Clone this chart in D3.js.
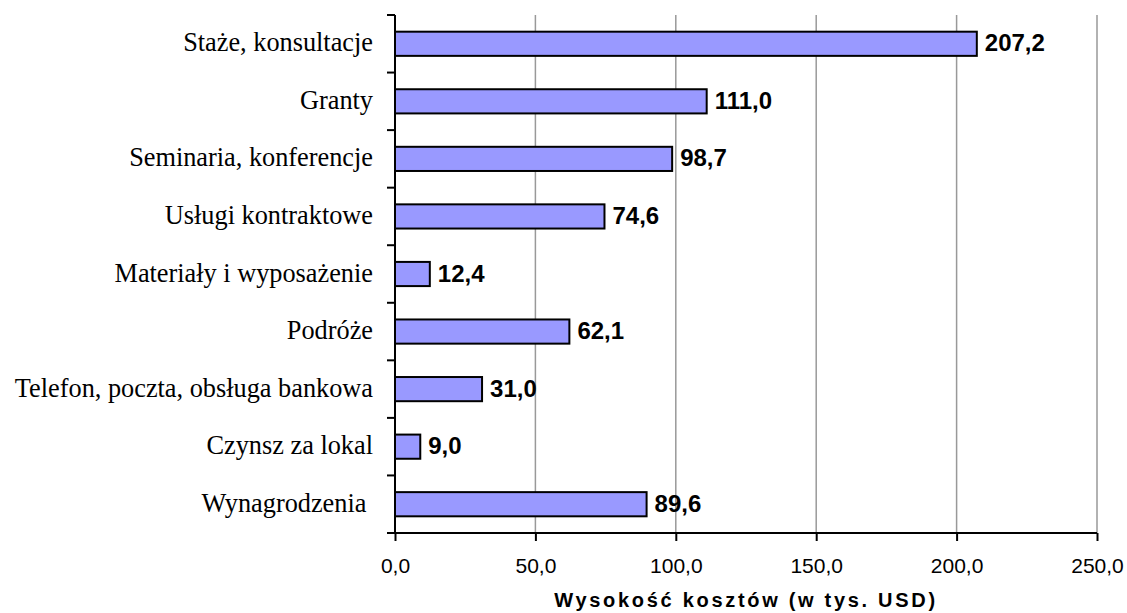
<!DOCTYPE html>
<html lang="pl">
<head>
<meta charset="UTF-8">
<title>Wysokość kosztów</title>
<script src="https://cdn.jsdelivr.net/npm/d3@7/dist/d3.min.js"></script>
<style>
  body { margin: 0; background: #fff; }
  svg { display: block; }
</style>
</head>
<body>
<div id="chart"></div>
<script>
// categories top to bottom
const categories = [
  "Staże, konsultacje",
  "Granty",
  "Seminaria, konferencje",
  "Usługi kontraktowe",
  "Materiały i wyposażenie",
  "Podróże",
  "Telefon, poczta, obsługa bankowa",
  "Czynsz za lokal",
  "Wynagrodzenia "
];
const values = [207.2, 111.0, 98.7, 74.6, 12.4, 62.1, 31.0, 9.0, 89.6];
const xTicks = [0, 50, 100, 150, 200, 250];
const axisTitle = "Wysokość kosztów (w tys. USD)";

const width = 1127, height = 613;
const margin = { top: 15, right: 30, bottom: 80, left: 395 };
const fmt = v => v.toFixed(1).replace(".", ",");

const svg = d3.select("#chart").append("svg")
  .attr("width", width).attr("height", height);

const x = d3.scaleLinear().domain([0, 250]).range([margin.left, width - margin.right]);
const y = d3.scaleBand().domain(categories).range([margin.top, height - margin.bottom]).paddingInner(0.58).paddingOuter(0.29);
const step = y.step();

// gridlines
svg.append("g").selectAll("line")
  .data(xTicks.filter(d => d > 0))
  .enter().append("line")
  .attr("x1", d => x(d)).attr("x2", d => x(d))
  .attr("y1", margin.top).attr("y2", height - margin.bottom)
  .attr("stroke", "#999").attr("stroke-width", 1.5);

// bars
svg.append("g").selectAll("rect")
  .data(values)
  .enter().append("rect")
  .attr("x", x(0))
  .attr("y", (d, i) => y(categories[i]))
  .attr("width", d => x(d) - x(0))
  .attr("height", y.bandwidth())
  .attr("fill", "#9999ff")
  .attr("stroke", "#000").attr("stroke-width", 2);

// value labels
svg.append("g").selectAll("text")
  .data(values)
  .enter().append("text")
  .attr("x", d => x(d) + 8)
  .attr("y", (d, i) => y(categories[i]) + y.bandwidth() / 2 + 7.5)
  .style("font-family", "Arial, 'Liberation Sans', sans-serif")
  .style("font-weight", "bold")
  .style("font-size", "24px")
  .text(fmt);

// y axis
const yAxisG = svg.append("g");
yAxisG.append("line")
  .attr("x1", x(0)).attr("x2", x(0))
  .attr("y1", margin.top).attr("y2", height - margin.bottom)
  .attr("stroke", "#000").attr("stroke-width", 2);
yAxisG.selectAll("line.tk")
  .data(d3.range(categories.length))
  .enter().append("line").attr("class", "tk")
  .attr("x1", x(0) - 8).attr("x2", x(0))
  .attr("y1", i => margin.top + i * step).attr("y2", i => margin.top + i * step)
  .attr("stroke", "#000").attr("stroke-width", 2);
yAxisG.selectAll("text")
  .data(categories)
  .enter().append("text")
  .attr("x", x(0) - 22)
  .attr("y", d => y(d) + y.bandwidth() / 2 + 7.5)
  .attr("text-anchor", "end")
  .style("white-space", "pre")
  .style("font-family", "'Liberation Serif', 'Times New Roman', serif")
  .style("font-size", "26.3px")
  .text(d => d);

// x axis
const xAxis = d3.axisBottom(x).tickValues(xTicks).tickFormat(fmt).tickSize(8).tickSizeOuter(0);
const xg = svg.append("g")
  .attr("transform", `translate(0,${height - margin.bottom})`)
  .call(xAxis);
xg.select(".domain").remove();
xg.append("line")
  .attr("x1", x(0) - 8).attr("x2", x(250))
  .attr("stroke", "#000").attr("stroke-width", 2);
xg.selectAll(".tick line").attr("stroke", "#000").attr("stroke-width", 2);
xg.selectAll(".tick text")
  .attr("y", 40)
  .attr("dy", 0)
  .attr("fill", "#000")
  .style("font-family", "Arial, 'Liberation Sans', sans-serif")
  .style("font-size", "21px");

svg.append("text")
  .attr("x", (x(0) + x(250)) / 2)
  .attr("y", 607)
  .attr("text-anchor", "middle")
  .style("font-family", "Arial, 'Liberation Sans', sans-serif")
  .style("font-weight", "bold")
  .style("font-size", "20px")
  .style("letter-spacing", "2.7px")
  .text(axisTitle);
</script>
</body>
</html>
